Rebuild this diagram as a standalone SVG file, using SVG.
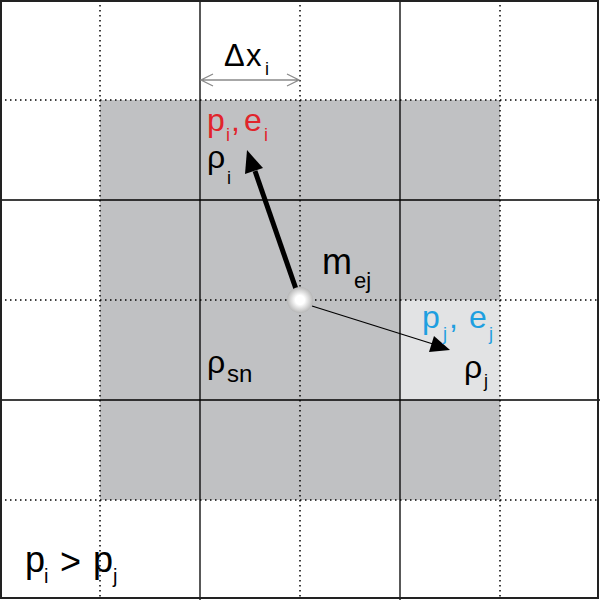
<svg xmlns="http://www.w3.org/2000/svg" width="600" height="600" viewBox="0 0 600 600">
<style>
.solid{stroke:#000;stroke-width:1.3;fill:none}
.dot{stroke:#000;stroke-width:1.5;stroke-dasharray:1.5 3.5;fill:none}
.t{font-family:"Liberation Sans",Arial,sans-serif;fill:#000}
.red{fill:#e1242b}
.blue{fill:#1e9fe0}
</style>
<defs>
<radialGradient id="ball" cx="0.5" cy="0.5" r="0.5">
<stop offset="0" stop-color="#ffffff"/>
<stop offset="0.35" stop-color="#ffffff"/>
<stop offset="1" stop-color="#b8b8b8"/>
</radialGradient>
</defs>
<rect x="0" y="0" width="600" height="600" fill="#fff"/>
<g id="region">
<rect x="100" y="100" width="400" height="400" fill="#c0c1c3"/>
<rect x="400" y="300" width="100" height="100" fill="#e2e3e4"/>
</g>
<g id="grid">
<path class="dot" d="M100,0V600M300,0V600M500,0V600M0,100H600M0,300H600M0,500H600"/>
<path class="solid" d="M200,0V600M400,0V600M0,200H600M0,400H600"/>
<rect x="1" y="1" width="597" height="597" fill="none" stroke="#222" stroke-width="2"/>
</g>
<g id="dx">
<path d="M201,80H299M213,74L201,80L213,86M287,74L299,80L287,86" fill="none" stroke="#8a8a8a" stroke-width="1.3"/>
<text class="t" x="224" y="66" font-size="31">Δ</text>
<text class="t" x="246" y="66" font-size="31">x</text>
<text class="t" x="265" y="75" font-size="18">i</text>
</g>
<g id="connectors">
<line x1="296" y1="289" x2="255" y2="171" stroke="#000" stroke-width="5"/>
<polygon points="247,150 263,168 245,174" fill="#000"/>
<line x1="312" y1="306" x2="433" y2="344" stroke="#000" stroke-width="1.3"/>
<polygon points="450,350 429,352 434,336" fill="#000"/>
</g>
<g id="particle">
<circle cx="300" cy="300" r="13" fill="url(#ball)"/>
</g>
<g id="cell-i">
<text class="t red" x="207" y="131" font-size="32">p</text>
<text class="t red" x="226" y="141" font-size="18">i</text>
<text class="t red" x="231" y="131" font-size="32">,</text>
<text class="t red" x="244" y="131" font-size="32">e</text>
<text class="t red" x="264" y="141" font-size="18">i</text>
<text class="t" x="207" y="168" font-size="32">ρ</text>
<text class="t" x="227" y="184" font-size="18">i</text>
</g>
<g id="cell-j">
<text class="t blue" x="422" y="328" font-size="32">p</text>
<text class="t blue" x="443" y="340" font-size="18">j</text>
<text class="t blue" x="449" y="328" font-size="32">,</text>
<text class="t blue" x="469" y="328" font-size="32">e</text>
<text class="t blue" x="489" y="340" font-size="18">j</text>
<text class="t" x="464" y="378" font-size="32">ρ</text>
<text class="t" x="484" y="387" font-size="18">j</text>
</g>
<g id="labels">
<text class="t" x="322" y="274" font-size="36">m</text>
<text class="t" x="354" y="288" font-size="22">ej</text>
<text class="t" x="207" y="373" font-size="32">ρ</text>
<text class="t" x="227" y="382" font-size="24">sn</text>
<text class="t" x="25" y="572" font-size="36">p</text>
<text class="t" x="44" y="583" font-size="20">i</text>
<text class="t" x="60" y="574" font-size="36">&gt;</text>
<text class="t" x="93" y="572" font-size="36">p</text>
<text class="t" x="113" y="583" font-size="20">j</text>
</g>
</svg>
